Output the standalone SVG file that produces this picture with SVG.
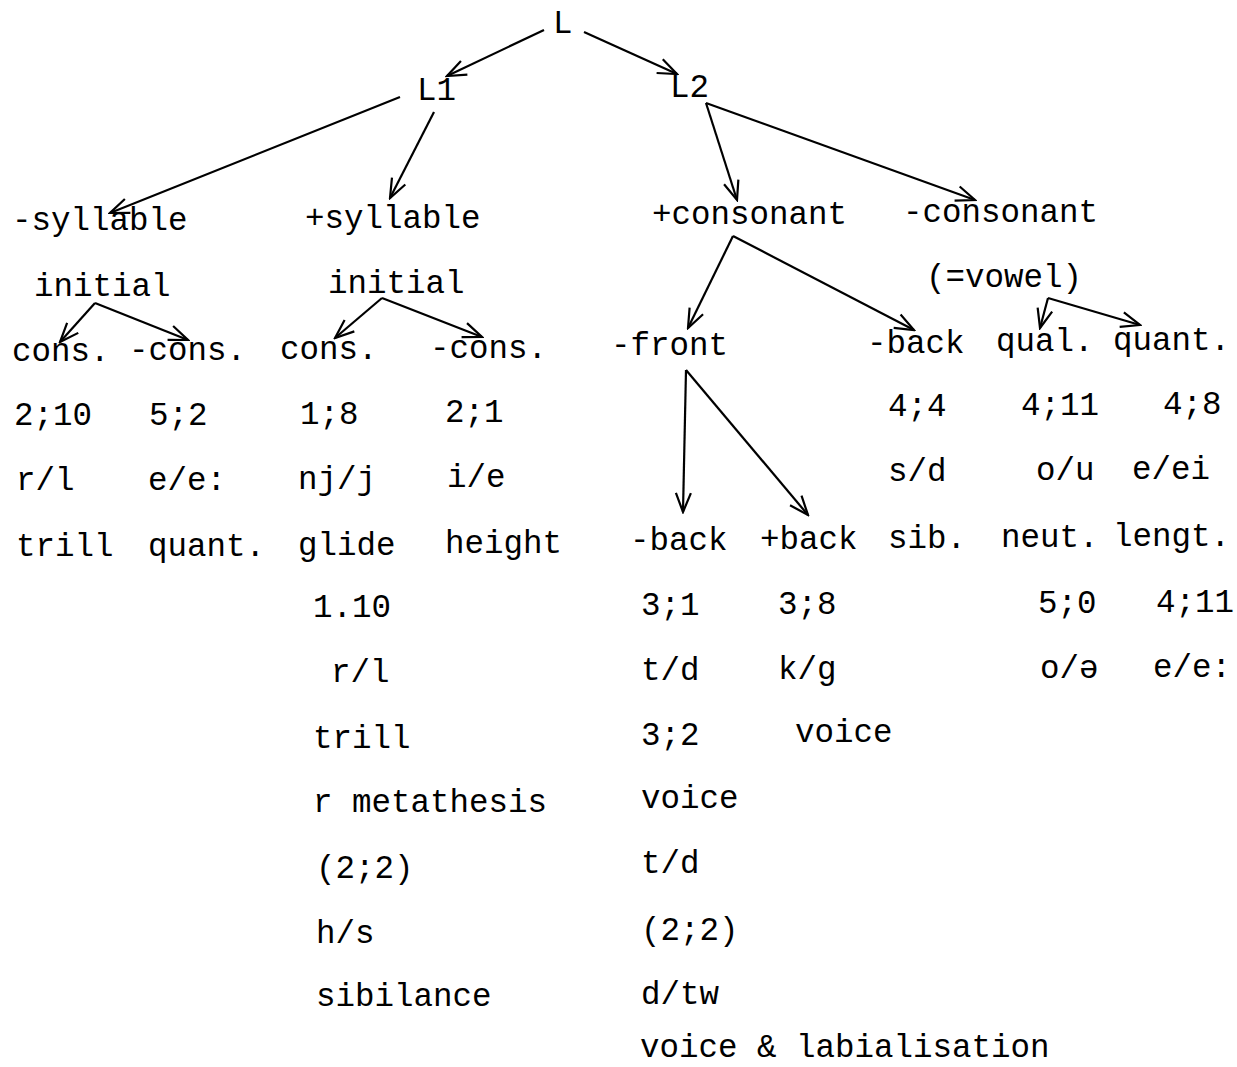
<svg xmlns="http://www.w3.org/2000/svg" width="1237" height="1067" viewBox="0 0 1237 1067">
<style>
text{font-family:"Liberation Mono","Courier New",monospace;font-size:32.5px;fill:#000}
.c line{stroke:#000;stroke-width:2.2;fill:none;marker-end:url(#ah)}
</style>
<defs>
<marker id="ah" viewBox="0 0 22 22" refX="20" refY="11" markerWidth="22" markerHeight="22" markerUnits="userSpaceOnUse" orient="auto">
<path d="M1,3.5 L20,11 L1,18.5" fill="none" stroke="#000" stroke-width="2.2"/>
</marker>
</defs>
<rect width="1237" height="1067" fill="#fff"/>
<g class="c" id="connectors">
<line x1="544" y1="30" x2="447" y2="76"/>
<line x1="584" y1="32" x2="677" y2="74"/>
<line x1="400" y1="97" x2="110" y2="213"/>
<line x1="434" y1="112" x2="390" y2="198"/>
<line x1="95" y1="303" x2="60" y2="342"/>
<line x1="95" y1="303" x2="188" y2="340"/>
<line x1="382" y1="298" x2="335" y2="338"/>
<line x1="382" y1="298" x2="482" y2="337"/>
<line x1="706" y1="103" x2="737" y2="200"/>
<line x1="706" y1="103" x2="975" y2="200"/>
<line x1="733" y1="236" x2="688" y2="328"/>
<line x1="733" y1="236" x2="914" y2="330"/>
<line x1="1048" y1="298" x2="1040" y2="328"/>
<line x1="1048" y1="298" x2="1140" y2="325"/>
<line x1="686" y1="370" x2="683" y2="512"/>
<line x1="686" y1="370" x2="808" y2="515"/>
</g>
<g id="n-L"><text x="553" y="33">L</text></g>
<g id="n-L1"><text x="417" y="100">L1</text></g>
<g id="n-L2"><text x="670" y="97">L2</text></g>
<g id="n-minus-syllable"><text x="12" y="230">-syllable</text><text x="34" y="296">initial</text></g>
<g id="n-plus-syllable"><text x="305" y="228">+syllable</text><text x="328" y="293">initial</text></g>
<g id="n-plus-consonant"><text x="652" y="224">+consonant</text></g>
<g id="n-minus-consonant"><text x="903" y="222">-consonant</text><text x="926" y="287">(=vowel)</text></g>
<g id="n-a-cons">
<text x="12" y="361">cons.</text><text x="14" y="425">2;10</text><text x="16" y="490">r/l</text><text x="16" y="556">trill</text>
</g>
<g id="n-a-mcons">
<text x="129" y="360">-cons.</text><text x="149" y="425">5;2</text><text x="148" y="490">e/e:</text><text x="148" y="556">quant.</text>
</g>
<g id="n-b-cons">
<text x="280" y="359">cons.</text><text x="300" y="424">1;8</text><text x="298" y="489">nj/j</text><text x="298" y="555">glide</text>
<text x="313" y="617">1.10</text><text x="331" y="682">r/l</text><text x="313" y="748">trill</text><text x="313" y="812">r metathesis</text>
<text x="316" y="878">(2;2)</text><text x="316" y="943">h/s</text><text x="316" y="1006">sibilance</text>
</g>
<g id="n-b-mcons">
<text x="430" y="358">-cons.</text><text x="445" y="422">2;1</text><text x="447" y="487">i/e</text><text x="445" y="553">height</text>
</g>
<g id="n-front"><text x="611" y="355">-front</text></g>
<g id="n-front-mback">
<text x="630" y="550">-back</text><text x="641" y="615">3;1</text><text x="641" y="680">t/d</text><text x="641" y="745">3;2</text>
<text x="641" y="808">voice</text><text x="641" y="873">t/d</text><text x="641" y="940">(2;2)</text><text x="641" y="1004">d/tw</text>
<text x="640" y="1057">voice &amp; labialisation</text>
</g>
<g id="n-front-pback">
<text x="760" y="549">+back</text><text x="778" y="614">3;8</text><text x="778" y="679">k/g</text><text x="795" y="742">voice</text>
</g>
<g id="n-mback">
<text x="867" y="353">-back</text><text x="888" y="416">4;4</text><text x="888" y="481">s/d</text><text x="888" y="548">sib.</text>
</g>
<g id="n-qual">
<text x="996" y="351">qual.</text><text x="1021" y="415">4;11</text><text x="1036" y="480">o/u</text><text x="1001" y="547">neut.</text>
<text x="1038" y="613">5;0</text><text x="1040" y="678">o/ə</text>
</g>
<g id="n-quant">
<text x="1113" y="350">quant.</text><text x="1163" y="414">4;8</text><text x="1132" y="479">e/ei</text><text x="1113" y="546">lengt.</text>
<text x="1156" y="612">4;11</text><text x="1153" y="677">e/e:</text>
</g>
</svg>
